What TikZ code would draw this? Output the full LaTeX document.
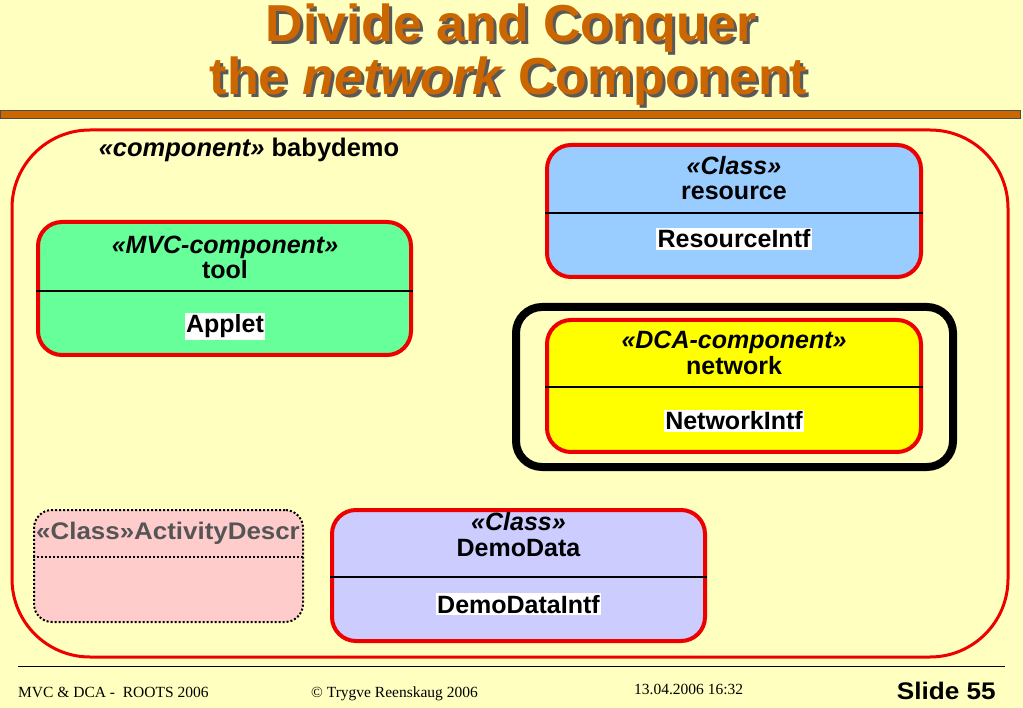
\documentclass[tikz,border=0pt]{standalone}
\usepackage{fontspec}
\setmainfont{Liberation Sans}
\newfontfamily\serifft{Liberation Serif}
\newfontfamily\wsans[FakeStretch=1.08]{Liberation Sans}
\newfontfamily\msans[FakeStretch=1.09]{Liberation Sans}
\definecolor{bgyel}{HTML}{FFFFC0}
\definecolor{ttlor}{HTML}{CC6600}
\definecolor{bred}{HTML}{EE0000}
\definecolor{tgreen}{HTML}{66FF99}
\definecolor{rblue}{HTML}{99CCFF}
\definecolor{nyel}{HTML}{FFFF00}
\definecolor{dpurp}{HTML}{CCCCFF}
\definecolor{apink}{HTML}{FFCCCC}
\definecolor{agray}{HTML}{555555}
\tikzset{
  umlbox/.style={draw=bred, line width=4pt, rounded corners=24pt, inner sep=0pt},
  divline/.style={draw=black, line width=1.8pt},
  lbl/.style={font=\fontsize{25}{28}\selectfont\bfseries, inner sep=0pt, anchor=base},
  stereo/.style={font=\fontsize{25}{28}\selectfont\bfseries\itshape, inner sep=0pt, anchor=base},
  intf/.style={font=\fontsize{25}{28}\selectfont\bfseries, fill=white, inner sep=1.5pt, anchor=base},
  ttl/.style={font=\fontsize{52}{56}\selectfont\bfseries, inner sep=0pt, anchor=base},
  foot/.style={font=\serifft\fontsize{15.5}{18}\selectfont, inner sep=0pt, anchor=base west}
}
\begin{document}
\begin{tikzpicture}[x=1pt,y=-1pt]
\useasboundingbox (0,0) rectangle (1023,708);
\fill[bgyel] (0,0) rectangle (1023,708);
% title
\node[ttl, text=black!65] (t1s) at (514.5,45) {Divide and Conquer};
\node[ttl, text=ttlor] (t1) at (511.5,42) {Divide and Conquer};
\node[ttl, text=black!65] (t2s) at (511.5,98) {the \textit{network} Component};
\node[ttl, text=ttlor] (t2) at (508.5,95) {the \textit{network} Component};
\draw[fill=ttlor, draw=black!70, line width=0.8pt] (0,110) rectangle (1020,118);
% outer component
\node[draw=bred, line width=3pt, rounded corners=78pt, minimum width=996pt, minimum height=527pt, inner sep=0pt] (outer) at (510,393.5) {};
\node[font=\fontsize{25.5}{28}\selectfont\bfseries, inner sep=0pt, anchor=base] (otitle) at (249,157) {\textit{«component»} babydemo};
% tool
\node[umlbox, fill=tgreen, minimum width=373pt, minimum height=133pt] (tool) at (224.5,288.5) {};
\draw[divline] (tool.west |- 0,291) -- (tool.east |- 0,291);
\node[stereo] (toolst) at (225,254) {«MVC-component»};
\node[lbl] (tooln) at (225,279) {tool};
\node[intf] (toolif) at (225,333) {Applet};
% resource
\node[umlbox, fill=rblue, minimum width=374pt, minimum height=132pt] (res) at (734,211) {};
\draw[divline] (res.west |- 0,213) -- (res.east |- 0,213);
\node[stereo] (resst) at (734,175) {«Class»};
\node[lbl] (resn) at (734,200) {resource};
\node[intf] (resif) at (734,248) {ResourceIntf};
% network highlight
\node[draw=black, line width=8pt, rounded corners=26pt, minimum width=437pt, minimum height=160pt, inner sep=0pt] (hl) at (734.5,387) {};
\node[umlbox, fill=nyel, minimum width=374pt, minimum height=132pt] (net) at (734,386) {};
\draw[divline] (net.west |- 0,387) -- (net.east |- 0,387);
\node[stereo] (netst) at (734,349) {«DCA-component»};
\node[lbl] (netn) at (734,375) {network};
\node[intf] (netif) at (734,430) {NetworkIntf};
% activity descr
\node[draw=black, dotted, line width=2pt, rounded corners=18pt, fill=apink, minimum width=269pt, minimum height=112pt, inner sep=0pt] (act) at (168.5,566) {};
\draw[black, dotted, line width=2pt] (act.west |- 0,557) -- (act.east |- 0,557);
\begin{scope}
\clip (34,500) rectangle (303,555);
\node[font=\wsans\fontsize{24}{26}\selectfont\bfseries, inner sep=0pt, text=agray, anchor=base west] (actn) at (36,539) {«Class»ActivityDescr};
\end{scope}
% demodata
\node[umlbox, fill=dpurp, minimum width=373pt, minimum height=131pt] (demo) at (518.5,575.5) {};
\draw[divline] (demo.west |- 0,577) -- (demo.east |- 0,577);
\node[stereo] (demost) at (518.5,530) {«Class»};
\node[lbl] (demon) at (518.5,556) {DemoData};
\node[intf] (demoif) at (518.5,613) {DemoDataIntf};
% footer
\coordinate (fl) at (18,666);
\coordinate (fr) at (1005,666);
\draw[black, line width=1pt] (fl) -- (fr);
\node[foot] (f1) at (18,697) {MVC \& DCA -\ \ ROOTS 2006};
\node[foot] (f2) at (311,697) {© Trygve Reenskaug 2006};
\node[foot] (f3) at (634,694) {13.04.2006 16:32};
\node[font=\msans\fontsize{24}{26}\selectfont\bfseries, inner sep=0pt, anchor=base east] (slide) at (996,699) {Slide 55};
\end{tikzpicture}
\end{document}
